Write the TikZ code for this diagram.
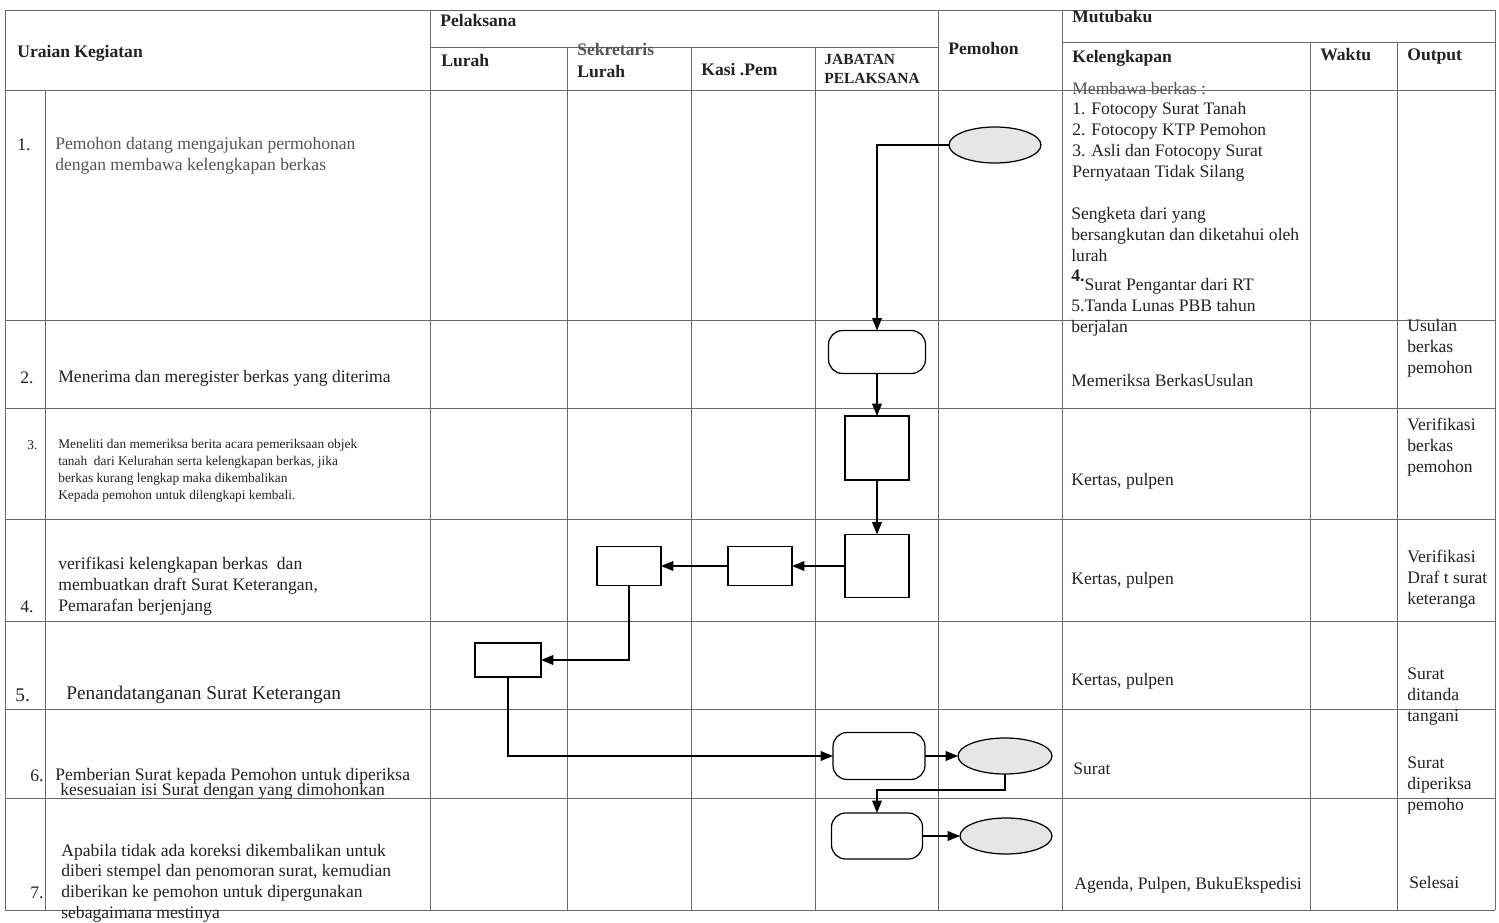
\documentclass[tikz,border=0pt]{standalone}
\usepackage{fontspec}
\setmainfont{Liberation Serif}
\usetikzlibrary{arrows.meta,shapes.geometric,calc}
\definecolor{ink}{HTML}{222222}
\definecolor{faint}{HTML}{555555}
\definecolor{gridc}{HTML}{6A6A6A}
\definecolor{ellfill}{HTML}{E6E6E6}
\begin{document}
\begin{tikzpicture}[x=0.02cm,y=-0.02cm,
  gridline/.style={draw=gridc,line width=0.55pt},
  conn/.style={draw=black,line width=0.7pt,-{Triangle[length=7pt,width=5.5pt]}},
  procbox/.style={draw=black,line width=0.7pt,rectangle,inner sep=0pt,outer sep=0pt},
  termbox/.style={draw=black,line width=0.7pt,rectangle,rounded corners=8pt,inner sep=0pt,outer sep=0pt},
  docell/.style={draw=black,line width=0.7pt,ellipse,fill=ellfill,inner sep=0pt,outer sep=0pt},
  hdr/.style={font=\bfseries\fontsize{10}{12}\selectfont,text=ink,anchor=base west,inner sep=0pt,align=left},
  hdrs/.style={font=\bfseries\fontsize{8.8}{10.6}\selectfont,text=ink,anchor=base west,inner sep=0pt,align=left},
  body/.style={font=\fontsize{10}{11.9}\selectfont,text=ink,anchor=base west,inner sep=0pt,align=left},
  small/.style={font=\fontsize{7.6}{9.6}\selectfont,text=ink,anchor=base west,inner sep=0pt,align=left},
  big/.style={font=\fontsize{11}{13}\selectfont,text=ink,anchor=base west,inner sep=0pt,align=left}]
\useasboundingbox (0,0) rectangle (1499,923);
\fill[white] (0,0) rectangle (1499,923);

% ---------- table grid ----------
\draw[gridline] (5,10) -- (1495,10);
\draw[gridline] (430,47) -- (938,47);
\draw[gridline] (1062,42) -- (1495,42);
\foreach \yy in {90,320,408,519,621,709,798,910}
  \draw[gridline] (5,\yy) -- (1495,\yy);
\draw[gridline] (5,10) -- (5,910);
\draw[gridline] (45,90) -- (45,910);
\draw[gridline] (430,10) -- (430,910);
\foreach \xx in {567,691,815}
  \draw[gridline] (\xx,47) -- (\xx,910);
\draw[gridline] (938,10) -- (938,910);
\draw[gridline] (1062,10) -- (1062,910);
\draw[gridline] (1310,42) -- (1310,910);
\draw[gridline] (1397,42) -- (1397,910);
\draw[gridline] (1495,10) -- (1495,910);

% ---------- header ----------
% (multi-line nodes are anchored at the baseline of their last line)
\node[hdr] (hUraian) at (17,57) {Uraian Kegiatan};
\node[hdr] (hPel) at (440,26) {Pelaksana};
\node[hdr] (hLurah) at (441,66) {Lurah};
\node[hdr,text=faint] (hSek) at (577,55) {Sekretaris};
\node[hdr] (hSekL) at (577,77) {Lurah};
\node[hdr] (hKasi) at (701,75) {Kasi .Pem};
\node[hdrs] (hJab) at (824,83) {JABATAN\\PELAKSANA};
\node[hdr] (hPem) at (948,54) {Pemohon};
\node[hdr] (hMutu) at (1072,22) {Mutubaku};
\node[hdr] (hKel) at (1072,62) {Kelengkapan};
\node[hdr] (hWaktu) at (1320,60) {Waktu};
\node[hdr] (hOut) at (1407,60) {Output};

% ---------- row 1 ----------
\node[body] (n1) at (17,150) {1.};
\node[body,text=faint] (t1) at (55,170) {Pemohon datang mengajukan permohonan\\dengan membawa kelengkapan berkas};
\node[body,text=faint] (k1a) at (1072,94) {Membawa berkas :};
\node[body] (k1b) at (1072,177) {1. Fotocopy Surat Tanah\\2. Fotocopy KTP Pemohon\\3. Asli dan Fotocopy Surat\\Pernyataan Tidak Silang};
\node[body] (k1c) at (1071,261) {Sengketa dari yang\\bersangkutan dan diketahui oleh\\lurah};
\node[body] (k1d) at (1071,290) {\raisebox{5pt}{\bfseries 4.}Surat Pengantar dari RT};
\node[body] (k1e) at (1071,332) {5.Tanda Lunas PBB tahun\\berjalan};

% ---------- row 2 ----------
\node[body] (n2) at (20,383) {2.};
\node[body] (t2) at (58,382) {Menerima dan meregister berkas yang diterima};
\node[body] (k2) at (1071,386) {Memeriksa BerkasUsulan};
\node[body] (o2) at (1407,373) {Usulan\\berkas\\pemohon};

% ---------- row 3 ----------
\node[small] (n3) at (27,449) {3.};
\node[small] (t3) at (58,499) {Meneliti dan memeriksa berita acara pemeriksaan objek\\tanah\ \ dari Kelurahan serta kelengkapan berkas, jika\\berkas kurang lengkap maka dikembalikan\\Kepada pemohon untuk dilengkapi kembali.};
\node[body] (k3) at (1071,485) {Kertas, pulpen};
\node[body] (o3) at (1407,472) {Verifikasi\\berkas\\pemohon};

% ---------- row 4 ----------
\node[body] (t4) at (58,611) {verifikasi kelengkapan berkas\ \ dan\\membuatkan draft Surat Keterangan,\\Pemarafan berjenjang};
\node[body] (n4) at (20,612) {4.};
\node[body] (k4) at (1071,584) {Kertas, pulpen};
\node[body] (o4) at (1407,604) {Verifikasi\\Draf t surat\\keteranga};

% ---------- row 5 ----------
\node[big] (n5) at (15,701) {5.};
\node[big] (t5) at (66,699) {Penandatanganan Surat Keterangan};
\node[body] (k5) at (1071,685) {Kertas, pulpen};
\node[body] (o5) at (1407,721) {Surat\\ditanda\\tangani};

% ---------- row 6 ----------
\node[body] (n6) at (30,781) {6.};
\node[body] (t6a) at (55,780) {Pemberian Surat kepada Pemohon untuk diperiksa};
\node[body] (t6b) at (60,795) {kesesuaian isi Surat dengan yang dimohonkan};
\node[body] (k6) at (1073,774) {Surat};
\node[body] (o6) at (1407,810) {Surat\\diperiksa\\pemoho};

% ---------- row 7 ----------
\node[body,font=\fontsize{10}{11.7}\selectfont] (t7) at (61,918) {Apabila tidak ada koreksi dikembalikan untuk\\diberi stempel dan penomoran surat, kemudian\\diberikan ke pemohon untuk dipergunakan\\sebagaimana mestinya};
\node[body] (n7) at (30,898) {7.};
\node[body] (k7) at (1074,889) {Agenda, Pulpen, BukuEkspedisi};
\node[body] (o7) at (1409,888) {Selesai};

% ---------- flow shapes ----------
\node[docell,minimum width=1.84cm,minimum height=0.72cm] (e1) at (995,145) {};
\node[termbox,minimum width=1.94cm,minimum height=0.86cm] (s2) at (877,352) {};
\node[procbox,minimum width=1.28cm,minimum height=1.28cm] (b3) at (877,448) {};
\node[procbox,minimum width=1.28cm,minimum height=1.26cm] (b4) at (877,566) {};
\node[procbox,minimum width=1.28cm,minimum height=0.78cm] (bk) at (760,566) {};
\node[procbox,minimum width=1.28cm,minimum height=0.78cm] (bs) at (629,566) {};
\node[procbox,minimum width=1.32cm,minimum height=0.68cm] (bl) at (508,660) {};
\node[termbox,minimum width=1.84cm,minimum height=0.94cm] (s6) at (879,756) {};
\node[docell,minimum width=1.88cm,minimum height=0.72cm] (e6) at (1005,756) {};
\node[termbox,minimum width=1.82cm,minimum height=0.92cm] (s7) at (877,836) {};
\node[docell,minimum width=1.84cm,minimum height=0.72cm] (e7) at (1006,836) {};

% ---------- connectors ----------
\draw[conn] (e1.west) -| (s2.north);
\draw[conn] (s2.south) -- (b3.north);
\draw[conn] (b3.south) -- (b4.north);
\draw[conn] (b4.west) -- (bk.east);
\draw[conn] (bk.west) -- (bs.east);
\draw[conn] (bs.south) |- (bl.east);
\draw[conn] (bl.south) |- (s6.west);
\draw[conn] (s6.east) -- (e6.west);
\coordinate (c6) at (1005,790);
\draw[conn] (e6.south) -- (c6) -| (s7.north);
\draw[conn] (s7.east) -- (e7.west);
\end{tikzpicture}
\end{document}
